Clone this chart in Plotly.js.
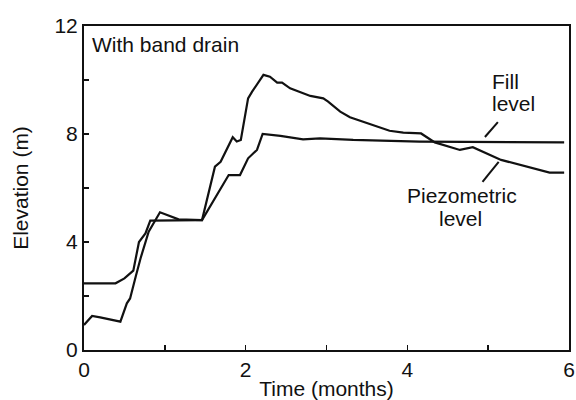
<!DOCTYPE html>
<html>
<head>
<meta charset="utf-8">
<script src="https://cdn.plot.ly/plotly-3.0.1.min.js"></script>
<style>html,body{margin:0;padding:0;background:#fff;}#chart{width:576px;height:400px;}</style>
</head>
<body>
<div id="chart"></div>
<script>
// Fill level (months, m)
const fillX = [0, 0.39, 0.5, 0.61, 0.68, 0.76, 0.82, 1.0, 1.46, 1.79, 1.93, 2.03, 2.14, 2.21, 2.43, 2.71, 2.92, 3.33, 3.74, 4.15, 5.94];
const fillY = [2.47, 2.47, 2.65, 2.94, 4.0, 4.32, 4.79, 4.8, 4.81, 6.48, 6.48, 7.1, 7.41, 8.0, 7.93, 7.8, 7.84, 7.78, 7.74, 7.72, 7.69];

// Piezometric level (months, m)
const piezoX = [0, 0.1, 0.2, 0.3, 0.45, 0.53, 0.57, 0.64, 0.70, 0.80, 0.87, 0.94, 1.17, 1.46, 1.62, 1.69, 1.84, 1.89, 1.94, 2.03, 2.08, 2.22, 2.30, 2.39, 2.45, 2.55, 2.80, 2.96, 3.02, 3.17, 3.29, 3.54, 3.78, 3.95, 4.17, 4.34, 4.65, 4.81, 5.16, 5.76, 5.94];
const piezoY = [0.93, 1.26, 1.21, 1.15, 1.05, 1.73, 1.91, 2.72, 3.4, 4.38, 4.75, 5.1, 4.84, 4.81, 6.79, 6.97, 7.88, 7.72, 7.78, 9.32, 9.57, 10.19, 10.12, 9.9, 9.9, 9.69, 9.41, 9.32, 9.2, 8.83, 8.62, 8.37, 8.12, 8.05, 8.02, 7.69, 7.41, 7.51, 7.04, 6.57, 6.57];

const xTicks = [0, 2, 4, 6];
const yTicks = [0, 4, 8, 12];

const FONT = 'Liberation Sans, Arial, Helvetica, sans-serif';
const INK = '#111111';
const FS = 21;

const lineStyle = {color: INK, width: 2.2};

const traces = [
  {x: fillX, y: fillY, mode: 'lines', line: lineStyle, name: 'Fill level', hoverinfo: 'skip'},
  {x: piezoX, y: piezoY, mode: 'lines', line: lineStyle, name: 'Piezometric level', hoverinfo: 'skip'}
];

const txt = (text, x, y, xanchor) => ({
  text: text, x: x, y: y, xref: 'x', yref: 'y', showarrow: false,
  xanchor: xanchor, yanchor: 'middle', font: {family: FONT, size: FS, color: INK}
});

const layout = {
  width: 576, height: 400,
  margin: {l: 83.5, r: 7, t: 26, b: 50},
  paper_bgcolor: '#ffffff', plot_bgcolor: '#ffffff',
  showlegend: false,
  font: {family: FONT, size: FS, color: INK},
  xaxis: {
    range: [0, 6], tickvals: xTicks, ticktext: xTicks.map(String),
    ticks: 'inside', ticklen: 5, tickwidth: 1.5, tickcolor: INK,
    minor: {dtick: 1, tick0: 0, ticks: 'inside', ticklen: 5, tickwidth: 1.5, tickcolor: INK, showgrid: false},
    showline: true, linecolor: INK, linewidth: 2, mirror: true,
    showgrid: false, zeroline: false,
    tickfont: {family: FONT, size: FS, color: INK},
    title: {text: 'Time (months)', font: {family: FONT, size: FS, color: INK}, standoff: 8}
  },
  yaxis: {
    range: [0, 12], tickvals: yTicks, ticktext: yTicks.map(String),
    ticks: 'inside', ticklen: 5, tickwidth: 1.5, tickcolor: INK,
    minor: {dtick: 2, tick0: 0, ticks: 'inside', ticklen: 5, tickwidth: 1.5, tickcolor: INK, showgrid: false},
    showline: true, linecolor: INK, linewidth: 2, mirror: true,
    showgrid: false, zeroline: false,
    tickfont: {family: FONT, size: FS, color: INK},
    title: {text: 'Elevation (m)', font: {family: FONT, size: FS, color: INK}, standoff: 20}
  },
  annotations: [
    txt('With band drain', 0.068, 11.3, 'left'),
    txt('Fill', 5.02, 9.95, 'left'),
    txt('level', 5.02, 9.13, 'left'),
    txt('Piezometric', 4.68, 5.72, 'center'),
    txt('level', 4.66, 4.87, 'center')
  ],
  shapes: [
    {type: 'line', xref: 'x', yref: 'y', x0: 5.12, y0: 8.44, x1: 4.96, y1: 7.89, line: {color: INK, width: 2}},
    {type: 'line', xref: 'x', yref: 'y', x0: 5.13, y0: 6.97, x1: 4.93, y1: 6.23, line: {color: INK, width: 2}}
  ]
};

Plotly.newPlot('chart', traces, layout, {staticPlot: true, displayModeBar: false});
</script>
</body>
</html>
